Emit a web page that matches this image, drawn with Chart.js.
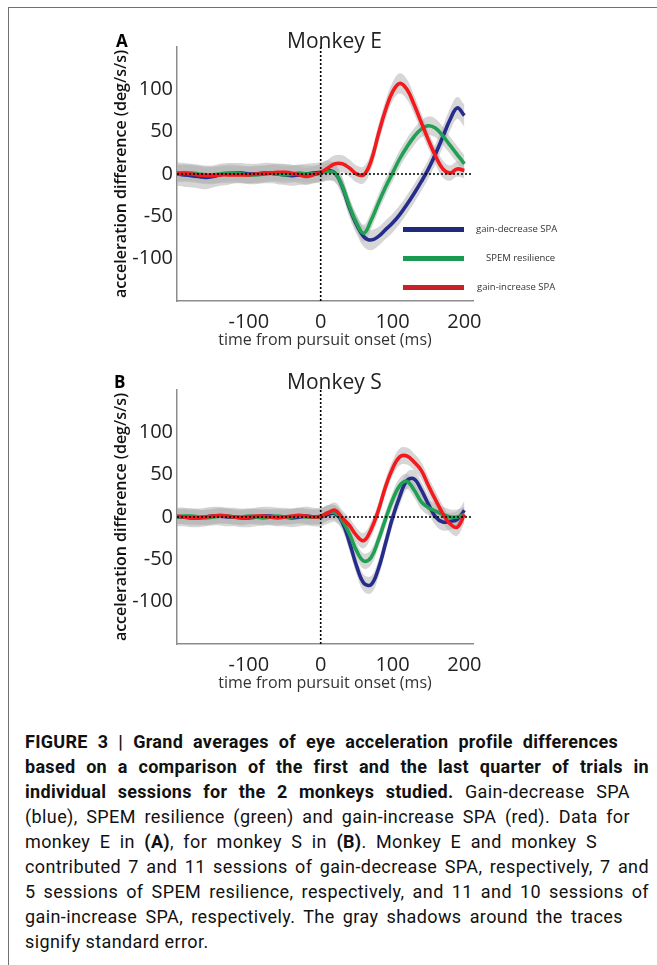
<!DOCTYPE html>
<html>
<head>
<meta charset="utf-8">
<script src="https://cdn.jsdelivr.net/npm/chart.js@4.4.0/dist/chart.umd.min.js"></script>
<style>
  body { margin: 0; background: #fff; width: 657px; height: 965px; position: relative; overflow: hidden; font-family: "Open Sans", sans-serif; }
  .frame { position: absolute; left: 8px; top: 7px; width: 700px; height: 1000px; border-top: 1.6px solid #707070; border-left: 1.6px solid #707070; }
  .panel { position: absolute; left: 0; width: 657px; height: 360px; }
  .lab { position: absolute; font-weight: bold; font-size: 17px; color: #000; line-height: 1; }
  .ttl { position: absolute; font-size: 21px; color: #222; line-height: 1; }
  .leg { position: absolute; font-size: 9.5px; color: #333; line-height: 1; }
  .legline { position: absolute; height: 5px; width: 61px; left: 403px; }
  .cap { position: absolute; left: 25px; top: 729px; font-family: "Roboto", sans-serif; font-size: 18px; letter-spacing: 0.4px; line-height: 25px; color: #111; }
  .cap b { font-weight: 700; letter-spacing: 0.3px; }
  .cap div { text-align: justify; text-align-last: justify; }
  .cap div.last { text-align-last: left; }
</style>
</head>
<body>
<div class="frame"></div>

<canvas id="chartE" class="panel" style="top:0px" width="657" height="360"></canvas>
<canvas id="chartS" class="panel" style="top:343px" width="657" height="360"></canvas>

<div class="lab" style="left:116px;top:32px">A</div>
<div class="ttl" style="left:287px;top:30px">Monkey E</div>
<div class="lab" style="left:114px;top:373px">B</div>
<div class="ttl" style="left:287px;top:371px">Monkey S</div>

<div class="legline" style="top:227px;background:#1f2a7a"></div>
<div class="leg" style="left:476px;top:224px">gain-decrease SPA</div>
<div class="legline" style="top:256px;background:#1a9a50"></div>
<div class="leg" style="left:486px;top:253px">SPEM resilience</div>
<div class="legline" style="top:285px;background:#c82127"></div>
<div class="leg" style="left:477px;top:282px">gain-increase SPA</div>

<div class="cap">
  <div style="width:593px"><b>FIGURE 3 | Grand averages of eye acceleration profile differences</b></div>
  <div style="width:624px"><b>based on a comparison of the first and the last quarter of trials in</b></div>
  <div style="width:605px"><b>individual sessions for the 2 monkeys studied.</b> Gain-decrease SPA</div>
  <div style="width:605px">(blue), SPEM resilience (green) and gain-increase SPA (red). Data for</div>
  <div style="width:572px">monkey E in <b>(A)</b>, for monkey S in <b>(B)</b>. Monkey E and monkey S</div>
  <div style="width:624px">contributed 7 and 11 sessions of gain-decrease SPA, respectively, 7 and</div>
  <div style="width:624px">5 sessions of SPEM resilience, respectively, and 11 and 10 sessions of</div>
  <div style="width:598px">gain-increase SPA, respectively. The gray shadows around the traces</div>
  <div class="last">signify standard error.</div>
</div>

<script>
// time axis (ms from pursuit onset)
const timeMs = [-200,-190,-180,-170,-160,-150,-140,-130,-120,-110,-100,-90,-80,-70,-60,-50,-40,-30,-20,-10,
                0,10,20,30,40,50,60,70,80,90,100,110,120,130,140,150,160,170,180,190,200];
const xTicks = [-100, 0, 100, 200];
const yTicks = [-100, -50, 0, 50, 100];
const xRange = [-200, 212];
const yRange = [-150, 150];

// Monkey E
const eBlue  = [0,-1,-2,-3,-4,-3,-1,0,1,1,0,0,1,1,0,-1,-2,-1,0,1,
                2,4,1,-15,-40,-60,-74,-78,-74,-66,-58,-48,-36,-23,-9,6,24,44,64,78,69];
const eGreen = [0,1,1,0,-1,-1,0,1,1,0,-1,-1,0,1,0,-1,0,1,0,0,
                1,3,1,-14,-38,-58,-70,-55,-35,-16,1,18,32,44,53,57,54,45,34,23,12];
const eRed   = [1,1,0,-1,-2,-2,-1,-1,-1,-1,-1,0,0,1,2,2,1,-1,-3,-1,
                2,7,12,12,7,0,-1,15,46,75,97,107,100,82,61,40,21,6,1,6,4];
const eBlueSE  = [14,14,14,14,14,13,13,13,12,12,12,12,12,12,12,12,12,12,12,12,
                  12,12,11,11,11,11,12,12,11,11,11,11,11,11,11,11,12,12,13,13,13];
const eGreenSE = [10,10,10,10,10,10,10,10,10,10,10,10,10,10,10,10,10,10,10,10,
                  10,10,10,10,10,10,10,10,10,10,10,10,10,10,10,11,11,11,10,10,10];
const eRedSE   = [10,10,10,10,10,10,10,10,10,10,10,10,10,10,10,10,10,10,10,10,
                  10,10,10,10,10,10,10,10,11,11,11,12,12,11,11,10,10,10,9,9,9];

// Monkey S
const sBlue  = [0,0,-1,-1,0,1,1,0,0,-1,-1,0,1,1,0,0,-1,0,1,0,
                0,3,4,-6,-30,-58,-78,-80,-62,-32,-1,24,43,45,32,15,0,-6,-5,-3,8];
const sGreen = [0,1,1,0,-1,0,1,1,0,0,1,0,-1,0,1,0,0,1,0,0,
                0,5,5,-4,-20,-40,-52,-48,-28,-3,20,37,42,32,18,11,7,3,0,0,3];
const sRed   = [1,0,-1,-1,0,1,2,1,0,-1,0,1,1,0,-1,0,1,2,1,0,
                1,5,8,-1,-10,-22,-28,-15,7,35,57,71,72,65,55,37,20,4,-8,-12,3];
const sBlueSE  = [11,11,11,11,11,11,11,11,11,11,11,11,11,11,11,11,11,11,11,11,
                  11,11,10,10,10,10,10,10,10,10,10,10,10,10,10,10,10,10,10,10,11];
const sGreenSE = [9,9,9,9,9,9,9,9,9,9,9,9,9,9,9,9,9,9,9,9,
                  9,9,9,9,9,9,9,9,9,9,9,9,9,9,9,9,9,9,9,9,9];
const sRedSE   = [9,9,9,9,9,9,9,9,9,9,9,9,9,9,9,9,9,9,9,9,
                  9,9,9,9,9,9,9,9,9,9,9,10,10,10,10,10,10,10,10,10,10];

const blueCol = '#262c8c';
const greenCol = '#20a052';
const redCol = '#f21a1c';
const bandCol = 'rgba(180,180,180,0.55)';

function pts(vals, se, sign) {
  return timeMs.map((t, i) => ({ x: t, y: vals[i] + sign * se[i] }));
}

function bandSets(vals, se) {
  return [
    { data: pts(vals, se, 1), borderWidth: 0, pointRadius: 0, fill: false, tension: 0.4, order: 10 },
    { data: pts(vals, se, -1), borderWidth: 0, pointRadius: 0, fill: '-1', backgroundColor: bandCol, tension: 0.4, order: 10 }
  ];
}

function traceSet(vals, col, ord) {
  return { data: timeMs.map((t, i) => ({ x: t, y: vals[i] })), borderColor: col, borderWidth: 3.6, pointRadius: 0,
           fill: false, tension: 0.4, order: ord };
}

function makePanel(id, blue, green, red, blueSE, greenSE, redSE) {
  const datasets = [
    ...bandSets(blue, blueSE),
    ...bandSets(green, greenSE),
    ...bandSets(red, redSE),
    traceSet(blue, blueCol, 5),
    traceSet(green, greenCol, 4),
    traceSet(red, redCol, 3),
    { data: xRange.map(x => ({ x: x, y: 0 })), borderColor: '#000', borderWidth: 1.6, borderDash: [2, 2],
      pointRadius: 0, fill: false, order: 1 },
    { data: yRange.map(y => ({ x: 0, y: y })), borderColor: '#000', borderWidth: 1.6, borderDash: [2, 2],
      pointRadius: 0, fill: false, order: 1 }
  ];

  new Chart(document.getElementById(id), {
    type: 'line',
    data: { datasets: datasets },
    options: {
      responsive: false,
      animation: false,
      devicePixelRatio: 1,
      layout: { padding: { left: 100, right: 184, top: 47, bottom: 0 } },
      plugins: { legend: { display: false }, tooltip: { enabled: false } },
      scales: {
        x: {
          type: 'linear', min: xRange[0], max: xRange[1],
          afterBuildTicks: s => { s.ticks = xTicks.map(v => ({ value: v })); },
          afterFit: s => { s.height = 59; },
          grid: { drawOnChartArea: false, drawTicks: false },
          border: { display: true, color: '#8c8c8c', width: 1.5 },
          ticks: { color: '#222', font: { family: 'Open Sans', size: 20 }, padding: 9, maxRotation: 0 },
          title: { display: true, text: 'time from pursuit onset (ms)', color: '#333',
                   font: { family: 'Open Sans', size: 16 }, padding: { bottom: 10 } }
        },
        y: {
          type: 'linear', min: yRange[0], max: yRange[1],
          afterBuildTicks: s => { s.ticks = yTicks.map(v => ({ value: v })); },
          afterFit: s => { s.width = 77; },
          grid: { drawOnChartArea: false, drawTicks: false },
          border: { display: true, color: '#8c8c8c', width: 1.5 },
          ticks: { color: '#222', font: { family: 'Open Sans', size: 20 }, padding: 4 },
          title: { display: true, text: 'acceleration difference (deg/s/s)', color: '#111',
                   font: { family: 'Open Sans', size: 16, weight: '600' }, padding: { top: 12 } }
        }
      }
    }
  });
}

makePanel('chartE', eBlue, eGreen, eRed, eBlueSE, eGreenSE, eRedSE);
makePanel('chartS', sBlue, sGreen, sRed, sBlueSE, sGreenSE, sRedSE);
</script>
</body>
</html>
